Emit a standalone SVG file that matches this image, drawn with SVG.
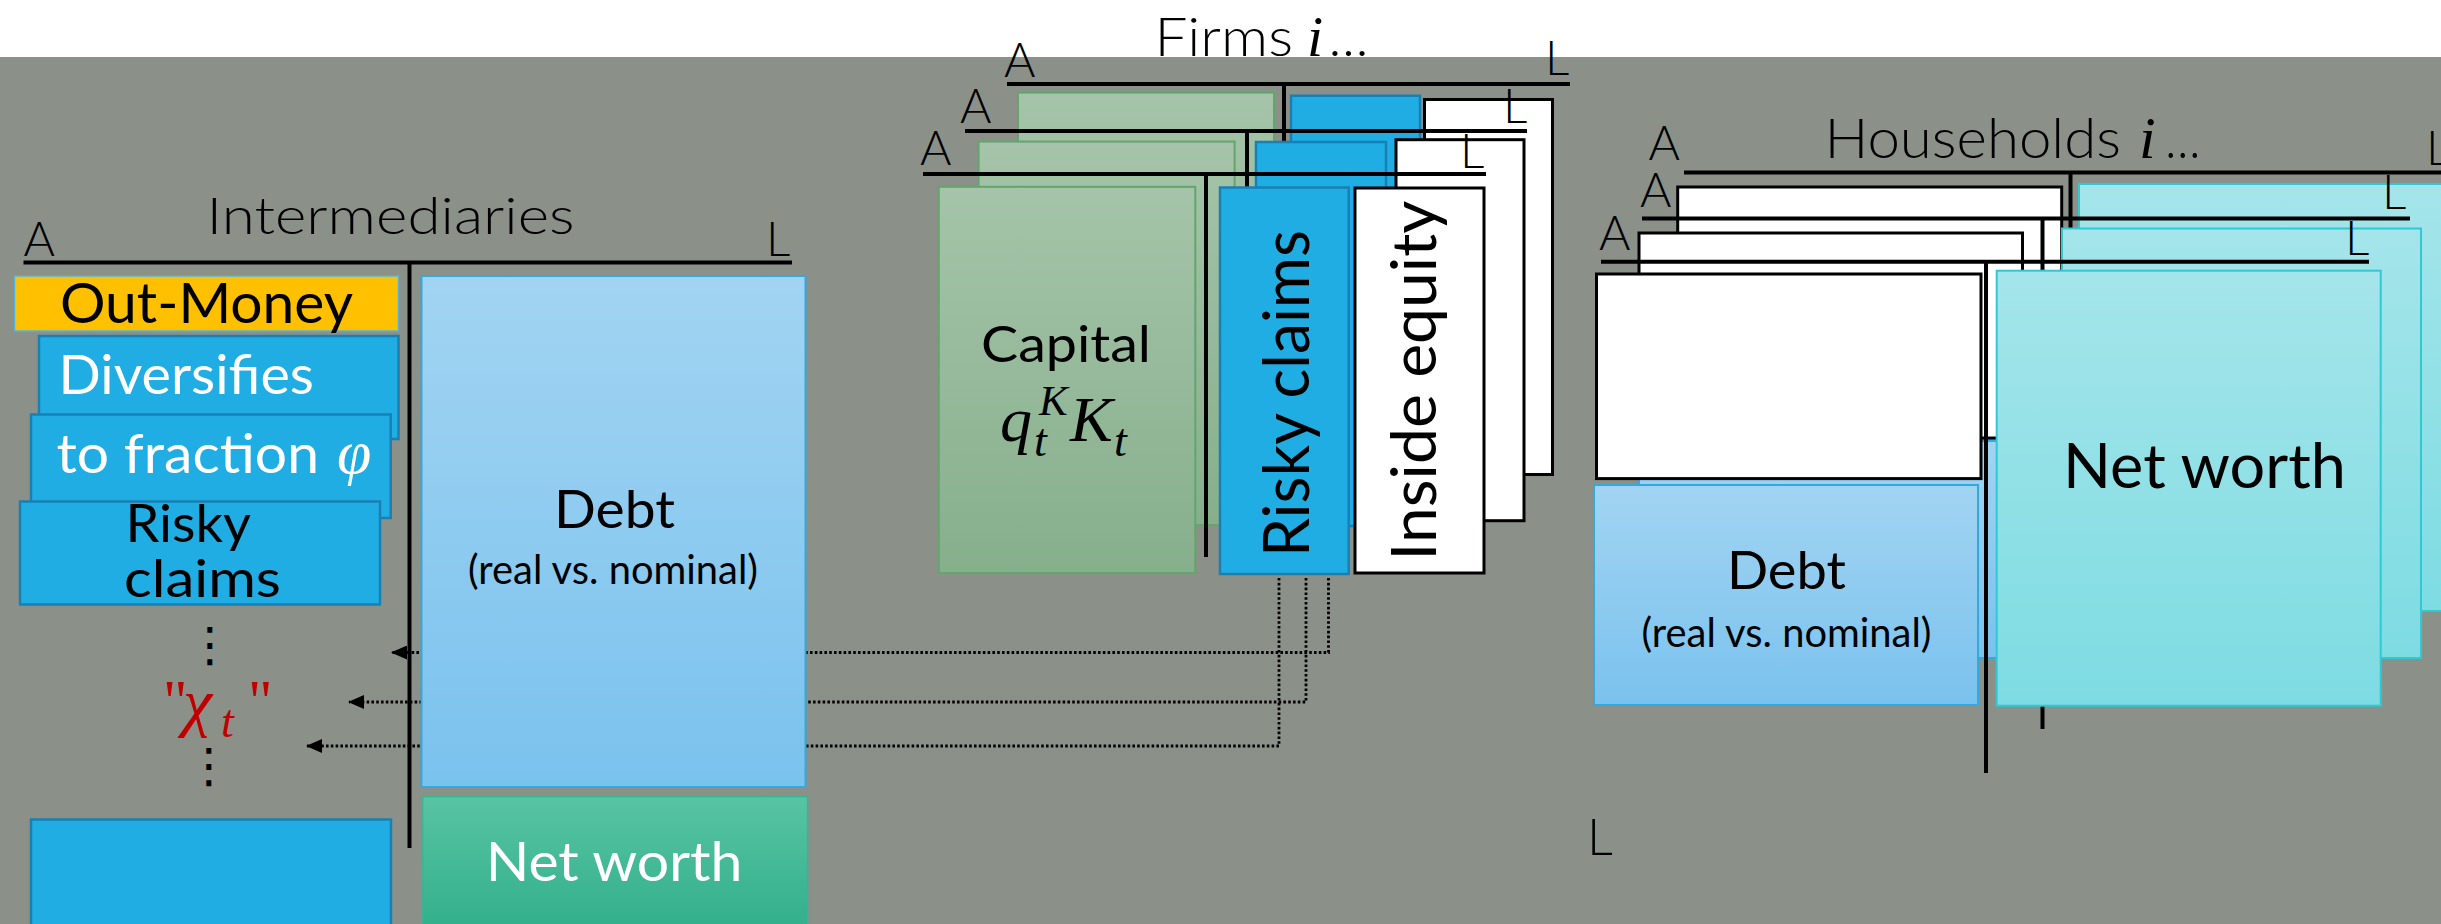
<svg xmlns="http://www.w3.org/2000/svg" width="2441" height="924" viewBox="0 0 2441 924">
<defs>
<linearGradient id="gGreen" x1="0" y1="0" x2="0" y2="1"><stop offset="0" stop-color="#A5C4A9"/><stop offset="1" stop-color="#86AF8C"/></linearGradient>
<linearGradient id="gDebt" x1="0" y1="0" x2="0" y2="1"><stop offset="0" stop-color="#A2D4F2"/><stop offset="1" stop-color="#7AC2EE"/></linearGradient>
<linearGradient id="gNet" x1="0" y1="0" x2="0" y2="1"><stop offset="0" stop-color="#58C4A3"/><stop offset="1" stop-color="#30AE8A"/></linearGradient>
<linearGradient id="gCyan" x1="0" y1="0" x2="0" y2="1"><stop offset="0" stop-color="#A4E5EA"/><stop offset="1" stop-color="#7DDCE2"/></linearGradient>
<marker id="arr" viewBox="0 0 16 14" refX="15" refY="7" markerWidth="16" markerHeight="14" markerUnits="userSpaceOnUse" orient="auto"><path d="M0,0 L16,7 L0,14 z" fill="#000"/></marker>
<style>
.t{font-family:Lato,"Open Sans","Liberation Sans",sans-serif;}
.lt{font-family:Lato,"Open Sans","Liberation Sans",sans-serif;font-weight:300;}
.m{font-family:"Liberation Serif","DejaVu Serif",serif;font-style:italic;}
.lab{font-family:Lato,"Open Sans","Liberation Sans",sans-serif;font-weight:300;font-size:48px;fill:#000;}
.bar{stroke:#000;stroke-width:4;fill:none;}
.blue{fill:#1FADE3;stroke:#1A80B3;stroke-width:2.5;}
.green{fill:url(#gGreen);stroke:#62A66D;stroke-width:2;}
.white{fill:#fff;stroke:#000;stroke-width:3;}
.debt{fill:url(#gDebt);stroke:#35A8E0;stroke-width:2;}
.net{fill:url(#gNet);stroke:#3BB591;stroke-width:1.5;}
.cyan{fill:url(#gCyan);stroke:#30C9D3;stroke-width:2;}
.dot{stroke:#000;stroke-width:2.8;stroke-dasharray:2.6 2.2;fill:none;}
</style>
</defs>
<rect x="0" y="0" width="2441" height="924" fill="#fff"/>
<rect x="0" y="57" width="2441" height="867" fill="#8B9189"/>

<g id="connectors">
<path class="dot" d="M1328.5,578 V652.5 H392" marker-end="url(#arr)"/>
<path class="dot" d="M1306,578 V702 H349" marker-end="url(#arr)"/>
<path class="dot" d="M1279,578 V746 H307" marker-end="url(#arr)"/>
</g>

<g id="intermediaries">
<text class="lt" x="206.6" y="234" font-size="52" textLength="368" lengthAdjust="spacingAndGlyphs">Intermediaries</text>
<text class="lab" x="23.5" y="256">A</text>
<text class="lab" x="766" y="256">L</text>
<line class="bar" x1="23.5" y1="262.5" x2="792" y2="262.5"/>
<line class="bar" x1="409.5" y1="262.5" x2="409.5" y2="848"/>
<g id="int-outmoney">
<rect x="14.5" y="276" width="384" height="55" fill="#FFC000" stroke="#4DB6E0" stroke-width="1.5"/>
<text class="t" x="60" y="323" font-size="57" textLength="293" lengthAdjust="spacingAndGlyphs">Out-Money</text>
</g>
<g id="int-diversifies">
<rect class="blue" x="39" y="336" width="359.5" height="103"/>
<text class="t" x="58.5" y="394" font-size="54" fill="#fff" textLength="255.5" lengthAdjust="spacingAndGlyphs">Diversifies</text>
</g>
<g id="int-fraction">
<rect class="blue" x="31" y="414.5" width="359.7" height="103.5"/>
<text class="t" x="56.5" y="473" font-size="54" fill="#fff" textLength="262.5" lengthAdjust="spacingAndGlyphs">to fraction</text>
<text class="m" x="337" y="473" font-size="62" fill="#fff">φ</text>
</g>
<g id="int-risky">
<rect class="blue" x="20" y="501.5" width="360" height="103"/>
<text class="t" x="125.5" y="542" font-size="52" textLength="125.5" lengthAdjust="spacingAndGlyphs">Risky</text>
<text class="t" x="124" y="597" font-size="52" textLength="157" lengthAdjust="spacingAndGlyphs">claims</text>
</g>
<g id="int-chi">
<text x="210" y="661" font-family="DejaVu Sans,sans-serif" font-size="48" text-anchor="middle">⋮</text>
<text x="163" y="721" font-family="Liberation Serif,serif" font-size="60" fill="#C00000">"</text>
<text class="m" x="183" y="724" font-size="66" fill="#C00000">χ</text>
<text class="m" x="221" y="737" font-size="46" fill="#C00000">t</text>
<text x="248" y="721" font-family="Liberation Serif,serif" font-size="60" fill="#C00000">"</text>
<text x="209" y="782" font-family="DejaVu Sans,sans-serif" font-size="48" text-anchor="middle">⋮</text>
</g>
<g id="int-bottom">
<rect class="blue" x="31" y="819.5" width="360" height="120"/>
</g>
<g id="int-debt">
<rect class="debt" x="421.5" y="276" width="384" height="511"/>
<text class="t" x="614.5" y="527.6" font-size="52" text-anchor="middle" textLength="121" lengthAdjust="spacingAndGlyphs">Debt</text>
<text class="t" x="613" y="584" font-size="40" text-anchor="middle" textLength="290" lengthAdjust="spacingAndGlyphs">(real vs. nominal)</text>
</g>
<g id="int-networth">
<rect class="net" x="422.6" y="796.6" width="385" height="140"/>
<text class="t" x="614" y="880.5" font-size="55" fill="#fff" text-anchor="middle" textLength="256.7" lengthAdjust="spacingAndGlyphs">Net worth</text>
</g>
</g>

<g id="firms">
<text class="lt" x="1154.5" y="55.5" font-size="53" textLength="138.5" lengthAdjust="spacingAndGlyphs">Firms</text>
<text class="m" x="1307" y="55.5" font-size="58">i</text>
<text class="lt" x="1328.6" y="55.5" font-size="53" textLength="40" lengthAdjust="spacingAndGlyphs">…</text>
<g id="firm-back">
<line class="bar" x1="1007" y1="84" x2="1570" y2="84"/>
<line class="bar" x1="1284" y1="84" x2="1284" y2="470"/>
<text class="lab" x="1004" y="76.5">A</text>
<text class="lab" x="1545" y="75">L</text>
<rect class="green" x="1018" y="92.6" width="256" height="386"/>
<rect class="blue" x="1291" y="95.7" width="129" height="386"/>
<rect class="white" x="1424.5" y="99.5" width="128" height="375"/>
</g>
<g id="firm-middle">
<line class="bar" x1="965" y1="131" x2="1527" y2="131"/>
<line class="bar" x1="1247" y1="131" x2="1247" y2="515"/>
<text class="lab" x="960" y="122.5">A</text>
<text class="lab" x="1503" y="123">L</text>
<rect class="green" x="978.6" y="141.6" width="256" height="383.5"/>
<rect class="blue" x="1256" y="142" width="130" height="384"/>
<rect class="white" x="1396" y="139.7" width="128" height="381"/>
</g>
<g id="firm-front">
<line class="bar" x1="923" y1="174" x2="1486" y2="174"/>
<line class="bar" x1="1206" y1="174" x2="1206" y2="557"/>
<text class="lab" x="920" y="164.6">A</text>
<text class="lab" x="1460" y="168">L</text>
<g id="firm-capital">
<rect class="green" x="938.8" y="186.8" width="256.5" height="386.2"/>
<text class="t" x="981" y="361.6" font-size="51" textLength="170" lengthAdjust="spacingAndGlyphs">Capital</text>
<text class="m" x="1000" y="441" font-size="64">q</text>
<text class="m" x="1039" y="415" font-size="43">K</text>
<text class="m" x="1034" y="456" font-size="46">t</text>
<text class="m" x="1070" y="441" font-size="64">K</text>
<text class="m" x="1114" y="456" font-size="46">t</text>
</g>
<g id="firm-risky">
<rect class="blue" x="1220" y="187.5" width="128.7" height="386.5"/>
<text class="t" transform="translate(1308.5,557) rotate(-90)" font-size="64" textLength="327" lengthAdjust="spacingAndGlyphs">Risky claims</text>
</g>
<g id="firm-equity">
<rect class="white" x="1355" y="188" width="129" height="385"/>
<text class="t" transform="translate(1435.7,560.6) rotate(-90)" font-size="62" textLength="360" lengthAdjust="spacingAndGlyphs">Inside equity</text>
</g>
</g>
</g>

<g id="households">
<text class="lt" x="1824.4" y="158" font-size="56" textLength="296.6" lengthAdjust="spacingAndGlyphs">Households</text>
<text class="m" x="2139" y="158" font-size="60">i</text>
<text class="lt" x="2165" y="158" font-size="56" textLength="35.5" lengthAdjust="spacingAndGlyphs">…</text>
<g id="hh-back">
<line class="bar" x1="1684" y1="172.5" x2="2441" y2="172.5"/>
<line class="bar" x1="2070.5" y1="172.5" x2="2070.5" y2="650"/>
<text class="lab" x="1648.6" y="160">A</text>
<text class="lab" x="2426" y="165">L</text>
<rect class="white" x="1677.7" y="187" width="384" height="205"/>
<rect class="cyan" x="2079" y="184" width="400" height="427"/>
</g>
<g id="hh-middle">
<line class="bar" x1="1642" y1="218.5" x2="2410" y2="218.5"/>
<line class="bar" x1="2042.5" y1="218.5" x2="2042.5" y2="729"/>
<text class="lab" x="1640" y="207">A</text>
<text class="lab" x="2382" y="209">L</text>
<rect class="white" x="1639" y="233" width="383.5" height="205"/>
<rect class="debt" x="1639" y="441" width="383" height="217"/>
<rect class="cyan" x="2062" y="228.5" width="359" height="429.5"/>
</g>
<g id="hh-front">
<line class="bar" x1="1601" y1="261.8" x2="2369" y2="261.8"/>
<line class="bar" x1="1986" y1="261.8" x2="1986" y2="773"/>
<text class="lab" x="1599" y="249.6">A</text>
<text class="lab" x="2345" y="254.5">L</text>
<rect class="white" x="1596.5" y="274" width="384.5" height="204.6"/>
<g id="hh-debt">
<rect class="debt" x="1594" y="485" width="384" height="220"/>
<text class="t" x="1786.5" y="589" font-size="53" text-anchor="middle" textLength="119" lengthAdjust="spacingAndGlyphs">Debt</text>
<text class="t" x="1786.5" y="647" font-size="40" text-anchor="middle" textLength="290" lengthAdjust="spacingAndGlyphs">(real vs. nominal)</text>
</g>
<g id="hh-networth">
<rect class="cyan" x="1996.7" y="270.7" width="384" height="435"/>
<text class="t" x="2204.5" y="487.5" font-size="61" text-anchor="middle" textLength="283" lengthAdjust="spacingAndGlyphs">Net worth</text>
</g>
</g>
</g>

<text class="lt" x="1587" y="855" font-size="51">L</text>
</svg>
